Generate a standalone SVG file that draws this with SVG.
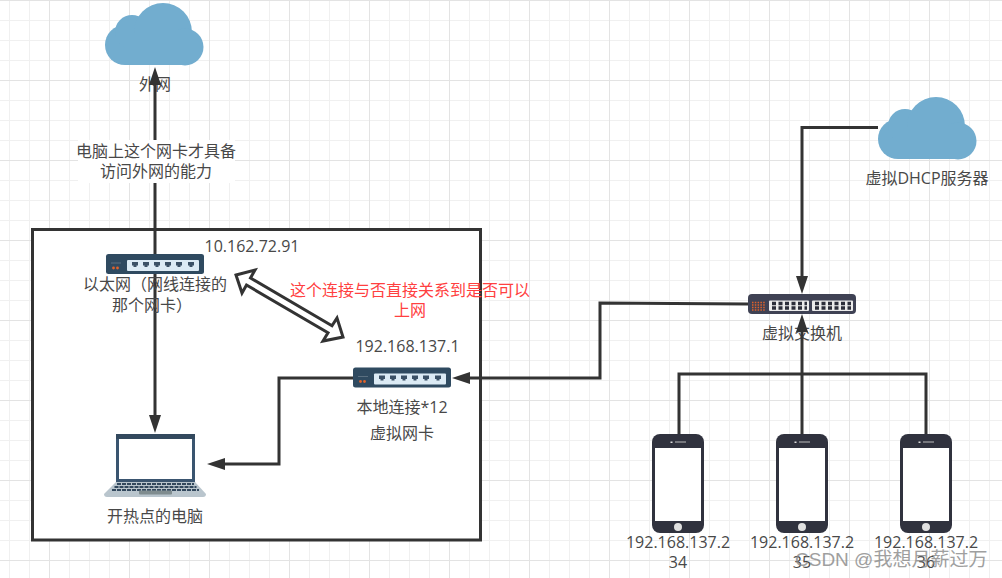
<svg xmlns="http://www.w3.org/2000/svg" width="1002" height="578" viewBox="0 0 1002 578">
<style>
text{font-family:"Open Sans","Noto Sans CJK SC",sans-serif;font-size:16px;fill:#484848;text-anchor:middle}
.minor{stroke:#f0f0f0;stroke-width:1;fill:none}
.major{stroke:#e3e3e3;stroke-width:1;fill:none}
.conn{fill:none;stroke:#333;stroke-width:3}
text.red{fill:#ff4040}
text.mark{fill:#888;opacity:.8;font-size:19px;text-anchor:start;font-family:"Liberation Sans","Noto Sans CJK SC",sans-serif}
</style>
<defs>
<marker id="arrow" markerUnits="userSpaceOnUse" markerWidth="20" markerHeight="14" refX="1" refY="7" orient="auto-start-reverse"><path d="M0 1 L18 7 L0 13 Z" fill="#333"/></marker>
<g id="cloud" fill="#72adcf"><circle cx="20" cy="42" r="20"/><circle cx="27" cy="29" r="17"/><circle cx="58" cy="29" r="29"/><circle cx="80" cy="44" r="18.500"/><rect x="20" y="30" width="60" height="32"/></g>
<g id="sw6"><rect width="98" height="20" rx="2.500" fill="#2f4a60"/><rect x="5" y="8.500" width="10" height="1" fill="#5a6f80"/><circle cx="7.500" cy="14" r="1.400" fill="#e0622a"/><circle cx="11.500" cy="14" r="1.400" fill="#e0622a"/><rect x="21" y="6" width="72" height="11" rx="1" fill="#dcebf5"/>
<path d="M26 8h6v3.500h-1.500v1.500h-3v-1.500h-1.500zM37 8h6v3.500h-1.500v1.500h-3v-1.500h-1.500zM48 8h6v3.500h-1.500v1.500h-3v-1.500h-1.500zM59 8h6v3.500h-1.500v1.500h-3v-1.500h-1.500zM70 8h6v3.500h-1.500v1.500h-3v-1.500h-1.500zM82 8h6v3.500h-1.500v1.500h-3v-1.500h-1.500z" fill="#3b5166"/></g>
<g id="phone"><rect width="52" height="99" rx="8" fill="#30323e"/><rect x="3" y="14" width="46" height="73" fill="#fff"/><circle cx="26" cy="93" r="4" fill="#e0e0e0"/><rect x="18.500" y="7.500" width="2" height="1.500" fill="#ddd"/><rect x="23" y="7.500" width="11" height="1" fill="#bbb"/></g>
</defs>

<g id="grid">
<rect width="1002" height="578" fill="#fff"/>
<path class="minor" d="M9.500 0V578M29.500 0V578M69.500 0V578M89.500 0V578M109.500 0V578M149.500 0V578M169.500 0V578M189.500 0V578M229.500 0V578M249.500 0V578M269.500 0V578M309.500 0V578M329.500 0V578M349.500 0V578M389.500 0V578M409.500 0V578M429.500 0V578M469.500 0V578M489.500 0V578M509.500 0V578M549.500 0V578M569.500 0V578M589.500 0V578M629.500 0V578M649.500 0V578M669.500 0V578M709.500 0V578M729.500 0V578M749.500 0V578M789.500 0V578M809.500 0V578M829.500 0V578M869.500 0V578M889.500 0V578M909.500 0V578M949.500 0V578M969.500 0V578M989.500 0V578M0 20.500H1002M0 40.500H1002M0 60.500H1002M0 100.500H1002M0 120.500H1002M0 140.500H1002M0 180.500H1002M0 200.500H1002M0 220.500H1002M0 260.500H1002M0 280.500H1002M0 300.500H1002M0 340.500H1002M0 360.500H1002M0 380.500H1002M0 420.500H1002M0 440.500H1002M0 460.500H1002M0 500.500H1002M0 520.500H1002M0 540.500H1002"/>
<path class="major" d="M49.500 0V578M129.500 0V578M209.500 0V578M289.500 0V578M369.500 0V578M449.500 0V578M529.500 0V578M609.500 0V578M689.500 0V578M769.500 0V578M849.500 0V578M929.500 0V578M0 .5H1002M0 80.500H1002M0 160.500H1002M0 240.500H1002M0 320.500H1002M0 400.500H1002M0 480.500H1002M0 560.500H1002"/>
</g>

<rect id="frame" x="32.500" y="229.500" width="448" height="310.500" fill="#fff" stroke="#333" stroke-width="3"/>

<g id="internet"><use href="#cloud" x="105" y="3"/><text x="155" y="90">外网</text></g>
<g id="vswitch">
<rect x="748" y="294" width="108" height="20" rx="4" fill="#3f4254"/>
<rect x="769" y="300.500" width="40" height="10.500" rx="1" fill="#ececec"/><rect x="812" y="300.500" width="41" height="10.500" rx="1" fill="#ececec"/>
<path stroke="#e0622a" stroke-width="1.600" stroke-dasharray="1.500 1.300" fill="none" d="M752 302.500H765M752 305H765M752 307.500H765M752 310H765"/>
<path stroke="#2c2e3a" stroke-width="3.500" stroke-dasharray="4 2.500" fill="none" d="M772 303.500H807M772 308H807M815 303.500H851M815 308H851"/>
<text x="802" y="339">虚拟交换机</text>
</g>

<g id="connectors">
<path class="conn" d="M155 84V416" marker-start="url(#arrow)" marker-end="url(#arrow)"/>
<path class="conn" d="M353 378H279V464H224" marker-end="url(#arrow)"/>
<path class="conn" d="M748 304L600 303V378H469" marker-end="url(#arrow)"/>
<path class="conn" d="M878 127.500H802V277" marker-end="url(#arrow)"/>
<path class="conn" d="M679 434V374H926V434"/>
<path class="conn" d="M802 434V331" marker-end="url(#arrow)"/>
<path d="M236 275L255 270L250.500 278L332 325.800L337 318L343 337L323 341L328 332.800L246.500 285L242 293Z" fill="#fff" stroke="#333" stroke-width="3"/>
</g>

<g id="ethernet"><use href="#sw6" x="106" y="254"/><text x="155" y="290">以太网（网线连接的</text><text x="152" y="311">那个网卡）</text><text x="252" y="252">10.162.72.91</text></g>
<g id="edge-label"><rect x="78" y="140" width="157" height="43" fill="#fff"/><text x="156" y="157">电脑上这个网卡才具备</text><text x="156" y="177">访问外网的能力</text></g>
<g id="note"><text class="red" x="410" y="296">这个连接与否直接关系到是否可以</text><text class="red" x="410" y="316">上网</text></g>
<g id="local"><use href="#sw6" x="353" y="367.500"/><text x="407.500" y="352">192.168.137.1</text><text x="402" y="413">本地连接*12</text><text x="402" y="439">虚拟网卡</text></g>
<g id="laptop">
<rect x="117.500" y="435.500" width="76" height="45" fill="#fff" stroke="#3a5570" stroke-width="3"/>
<rect x="116" y="434" width="79" height="5" fill="#33495e"/>
<path d="M116 482H195L206 494Q206 497 203 497H107Q104 497 104 494Z" fill="#b9c5cd"/>
<path d="M117 484H194M114.500 487H196.500M112 490H199" stroke="#33495e" stroke-width="2" stroke-dasharray="4 1" fill="none"/>
<rect x="139" y="490.500" width="33" height="4" rx="1" fill="#7f8c8f"/>
<text x="155" y="522">开热点的电脑</text>
</g>
<g id="dhcp"><use href="#cloud" x="878" y="97"/><text x="927" y="184">虚拟DHCP服务器</text></g>
<g id="phone1"><use href="#phone" x="652" y="434"/><text x="678" y="548">192.168.137.2</text><text x="678" y="568">34</text></g>
<g id="phone2"><use href="#phone" x="776" y="434"/><text x="802" y="548">192.168.137.2</text><text x="802" y="568">35</text></g>
<g id="phone3"><use href="#phone" x="900" y="434"/><text x="926" y="548">192.168.137.2</text><text x="926" y="568">36</text></g>
<text class="mark" x="795" y="566">CSDN @我想月薪过万</text>
</svg>
